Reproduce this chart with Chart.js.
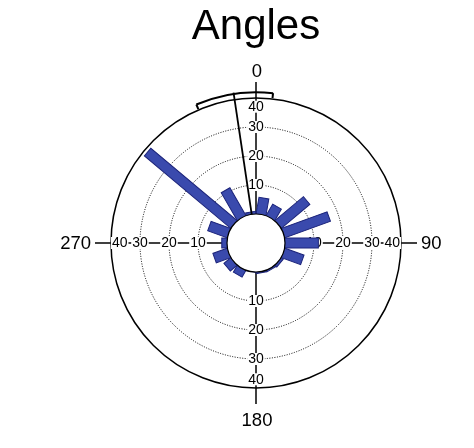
<!DOCTYPE html>
<html>
<head>
<meta charset="utf-8">
<script src="https://cdn.jsdelivr.net/npm/chart.js@4.4.1/dist/chart.umd.min.js"></script>
<style>
  html, body { margin: 0; padding: 0; background: #fff; }
  #wrap { width: 474px; height: 448px; }
</style>
</head>
<body>
<div id="wrap"><canvas id="rose"></canvas></div>
<script>
// 20 degree bins, clockwise from north
const binCenters = [10, 30, 50, 70, 90, 110, 130, 150, 170, 190, 210, 230, 250, 270, 290, 310, 330, 350];
const counts = [5.7, 4.5, 12.8, 16.7, 11.5, 7, 0.8, 0.5, 0.4, 0, 2.6, 3, 5.2, 1.8, 7.1, 38.8, 11, 0.8];
const tickValues = [10, 20, 30, 40];
const axisAngles = [0, 90, 180, 270];
const axisLabels = ['0', '90', '180', '270'];
// mean direction + confidence arc
const meanAngle = 351.5;
const meanLength = 42.4;
const confArc = [336.7, 6.5];
const confRadius = 42;

const FONT = "'Liberation Sans', Arial, sans-serif";
const BAR_W = 10;

Chart.defaults.font.family = FONT;

function polar(scale, deg, dist) {
	const a = deg * Math.PI / 180;
	return { x: scale.xCenter + dist * Math.sin(a), y: scale.yCenter - dist * Math.cos(a) };
}

const rosePlugin = {
	id: 'rose',
	beforeDatasetsDraw(chart) {
		const ctx = chart.ctx;
		const r = chart.scales.r;
		const rIn = r.getDistanceFromCenterForValue(0);
		const rOut = r.drawingArea + 16;
		ctx.save();
		axisAngles.forEach((deg, i) => {
			const p0 = polar(r, deg, rIn);
			const p1 = polar(r, deg, rOut);
			ctx.strokeStyle = '#000';
			ctx.lineWidth = 1.5;
			ctx.beginPath();
			ctx.moveTo(p0.x, p0.y);
			ctx.lineTo(p1.x, p1.y);
			ctx.stroke();

			// tick labels sit on the axis with a white backdrop
			ctx.font = '14px ' + FONT;
			ctx.textAlign = 'center';
			ctx.textBaseline = 'middle';
			tickValues.forEach((v) => {
				const dist = r.getDistanceFromCenterForValue(v === r.max ? v - 3 : v);
				const p = polar(r, deg, dist);
				const txt = String(v);
				const w = ctx.measureText(txt).width;
				ctx.fillStyle = '#fff';
				ctx.fillRect(p.x - w / 2 - 1, p.y - 6, w + 2, 12);
				ctx.fillStyle = '#000';
				ctx.fillText(txt, p.x, p.y + 0.5);
			});

			// direction label outside the circle
			const size = 18.5;
			const capH = size * 0.716;
			ctx.font = size + 'px ' + FONT;
			ctx.fillStyle = '#000';
			const d = rOut + 4;
			if (deg === 0) {
				ctx.textAlign = 'center';
				ctx.textBaseline = 'alphabetic';
				ctx.fillText(axisLabels[i], r.xCenter + 1, r.yCenter - d - 1);
			} else if (deg === 180) {
				ctx.textAlign = 'center';
				ctx.textBaseline = 'alphabetic';
				ctx.fillText(axisLabels[i], r.xCenter + 1, r.yCenter + d + 5 + capH);
			} else if (deg === 90) {
				ctx.textAlign = 'left';
				ctx.textBaseline = 'middle';
				ctx.fillText(axisLabels[i], r.xCenter + d, r.yCenter + 1);
			} else {
				ctx.textAlign = 'right';
				ctx.textBaseline = 'middle';
				ctx.fillText(axisLabels[i], r.xCenter - d, r.yCenter + 1);
			}
		});
		ctx.restore();
	},
	beforeDatasetDraw() {
		// bars are drawn as rectangles below instead of wedges
		return false;
	},
	afterDatasetsDraw(chart) {
		const ctx = chart.ctx;
		const r = chart.scales.r;
		const meta = chart.getDatasetMeta(0);
		ctx.save();
		meta.data.forEach((arc) => {
			const p = arc.getProps(['x', 'y', 'startAngle', 'endAngle', 'outerRadius'], true);
			const mid = (p.startAngle + p.endAngle) / 2;
			ctx.save();
			ctx.translate(p.x, p.y);
			ctx.rotate(mid);
			ctx.fillStyle = arc.options.backgroundColor;
			ctx.strokeStyle = arc.options.borderColor;
			ctx.lineWidth = arc.options.borderWidth;
			ctx.fillRect(0, -BAR_W / 2, p.outerRadius, BAR_W);
			ctx.strokeRect(0, -BAR_W / 2, p.outerRadius, BAR_W);
			ctx.restore();
		});

		// centre hole
		const rIn = r.getDistanceFromCenterForValue(0);
		ctx.beginPath();
		ctx.arc(r.xCenter, r.yCenter, rIn, 0, Math.PI * 2);
		ctx.fillStyle = '#fff';
		ctx.fill();
		ctx.strokeStyle = '#000';
		ctx.lineWidth = 1.2;
		ctx.stroke();

		// mean vector
		const m0 = polar(r, meanAngle, rIn);
		const m1 = polar(r, meanAngle, r.getDistanceFromCenterForValue(meanLength));
		ctx.lineWidth = 1.8;
		ctx.beginPath();
		ctx.moveTo(m0.x, m0.y);
		ctx.lineTo(m1.x, m1.y);
		ctx.stroke();

		// confidence arc with end ticks
		const rc = r.getDistanceFromCenterForValue(confRadius);
		const a0 = confArc[0];
		const a1 = confArc[1] < a0 ? confArc[1] + 360 : confArc[1];
		const toCanvas = (deg) => (deg - 90) * Math.PI / 180;
		ctx.lineWidth = 2;
		ctx.beginPath();
		ctx.arc(r.xCenter, r.yCenter, rc, toCanvas(a0), toCanvas(a1));
		ctx.stroke();
		[a0, a1].forEach((deg) => {
			const q0 = polar(r, deg, rc - 5);
			const q1 = polar(r, deg, rc);
			ctx.beginPath();
			ctx.moveTo(q0.x, q0.y);
			ctx.lineTo(q1.x, q1.y);
			ctx.stroke();
		});
		ctx.restore();
	},
};

new Chart(document.getElementById('rose'), {
	type: 'polarArea',
	data: {
		labels: binCenters,
		datasets: [
			{
				data: counts,
				backgroundColor: '#3a4aad',
				borderColor: '#1b237a',
				borderWidth: 1,
			},
		],
	},
	options: {
		responsive: true,
		maintainAspectRatio: false,
		animation: false,
		events: [],
		layout: {
			padding: { left: 100, right: 62, top: 0, bottom: 60 },
		},
		plugins: {
			legend: { display: false },
			tooltip: { enabled: false },
			title: {
				display: true,
				text: 'Angles',
				color: '#000',
				font: { family: FONT, size: 42, weight: 'normal' },
				padding: { top: 2, bottom: 45.6 },
			},
		},
		scales: {
			r: {
				min: -10,
				max: 40,
				startAngle: 0,
				ticks: { display: false, stepSize: 10 },
				pointLabels: { display: false },
				angleLines: { display: false },
				grid: {
					circular: true,
					color: (c) => {
						const v = c.tick ? c.tick.value : 0;
						if (v <= 0) return 'rgba(0,0,0,0)';
						return '#000';
					},
					lineWidth: (c) => (c.tick && c.tick.value === 40 ? 1.5 : 1),
				},
				border: {
					dash: (c) => (c.tick && c.tick.value === 40 ? [] : [1, 1.5]),
				},
			},
		},
	},
	plugins: [rosePlugin],
});
</script>
</body>
</html>
